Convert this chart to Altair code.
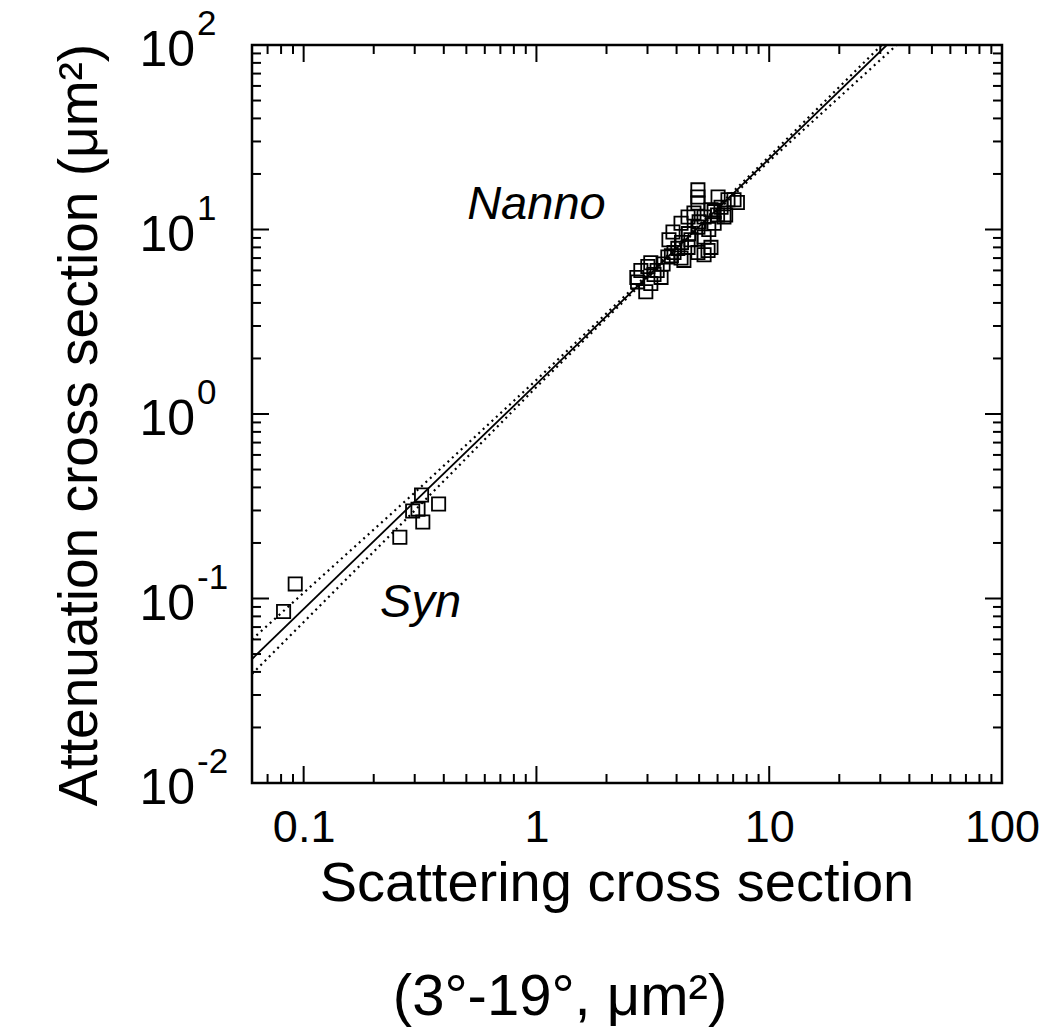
import altair as alt
import pandas as pd

# ---- data ----
syn_x = [0.082, 0.092, 0.259, 0.321, 0.294, 0.310, 0.325, 0.38]
syn_y = [0.085, 0.12, 0.215, 0.364, 0.298, 0.305, 0.26, 0.325]

nanno_x = [2.70, 2.81, 3.01, 3.10, 2.95, 2.72, 3.20, 3.43, 3.10, 3.67, 3.90, 4.18,
           4.48, 4.05, 3.71, 4.30, 3.86, 4.18, 4.48, 4.75, 4.94, 5.25, 5.46, 4.94,
           4.61, 4.94, 4.94, 4.94, 6.03, 6.65, 7.06, 6.21, 5.62, 6.39, 5.80, 5.25,
           5.62, 5.25, 5.5, 6.0, 5.8, 4.5, 4.2, 3.8, 3.5, 3.3, 5.0, 6.5, 7.3]
nanno_y = [5.5, 6.0, 6.3, 5.1, 4.6, 5.2, 5.7, 5.5, 6.6, 7.1, 7.5, 7.0,
           8.0, 7.9, 8.8, 6.8, 9.7, 10.8, 11.7, 12.3, 10.3, 9.1, 7.7, 7.5,
           8.8, 13.9, 15.0, 16.4, 15.0, 14.5, 14.5, 13.2, 12.8, 11.7, 10.8, 11.7,
           8.0, 7.3, 10.0, 12.0, 12.5, 9.5, 8.5, 7.2, 6.5, 6.0, 11.0, 12.0, 14.0]

fit_x = [0.06, 32.0]
fit_y = [0.047, 100.0]
upper_x = [0.06, 0.3, 1.0, 4.0, 10.0, 30.4]
upper_y = [0.060, 0.375, 1.53, 8.05, 24.9, 100.0]
lower_x = [0.06, 0.3, 1.0, 4.0, 10.0, 35.3]
lower_y = [0.039, 0.30, 1.40, 7.8, 23.5, 100.0]

x_label_values = [0.1, 1, 10, 100]
x_major = [0.1, 1, 10, 100]
x_minor = [0.07, 0.08, 0.09] + [m * 0.1 for m in range(2, 10)] + \
          [float(m) for m in range(2, 10)] + [m * 10.0 for m in range(2, 10)]
y_major = [0.01, 0.1, 1, 10, 100]
y_exponents = ["-2", "-1", "0", "1", "2"]
y_minor = [m * d for d in [0.01, 0.1, 1, 10] for m in range(2, 10)]

annot_text = ["Nanno", "Syn"]
annot_x = [1.0, 0.318]
annot_y = [13.6, 0.095]

x_title_1 = "Scattering cross section"
x_title_2 = "(3°-19°, μm²)"
y_title = "Attenuation cross section (μm²)"

# ---- chart ----
W, H = 750, 738
FONT = "Liberation Sans"
xs = alt.Scale(type="log", domain=[0.06, 100], nice=False)
ys = alt.Scale(type="log", domain=[0.01, 100], nice=False)
x_axis = alt.Axis(values=x_label_values, format="~g", title=None, ticks=False,
                  domain=False, grid=False, labelFontSize=45, labelPadding=22,
                  labelColor="black", labelFont=FONT, labelFlush=False)


def X(field):
    return alt.X(field, type="quantitative", scale=xs, axis=x_axis)


def Y(field):
    return alt.Y(field, type="quantitative", scale=ys, axis=None)


pts = pd.DataFrame({"x": syn_x + nanno_x, "y": syn_y + nanno_y})
points = alt.Chart(pts).mark_point(shape="square", filled=False, size=175,
                                   color="black", strokeWidth=1.8, opacity=1).encode(
    x=X("x"), y=Y("y"))

fit = alt.Chart(pd.DataFrame({"x": fit_x, "y": fit_y})).mark_line(
    color="black", strokeWidth=1.8, clip=True).encode(x=X("x"), y=Y("y"))
up = alt.Chart(pd.DataFrame({"x": upper_x, "y": upper_y})).mark_line(
    color="black", strokeWidth=2.2, strokeDash=[2, 4], clip=True).encode(x=X("x"), y=Y("y"))
lo = alt.Chart(pd.DataFrame({"x": lower_x, "y": lower_y})).mark_line(
    color="black", strokeWidth=2.2, strokeDash=[2, 4], clip=True).encode(x=X("x"), y=Y("y"))

MAJ, MIN = 17, 9
xmaj = pd.DataFrame({"x": x_major})
xmin = pd.DataFrame({"x": x_minor})
ymaj = pd.DataFrame({"y": y_major})
ymin = pd.DataFrame({"y": y_minor})
rule = dict(color="black", strokeWidth=2)

tick_layers = []
for df, L in [(xmaj, MAJ), (xmin, MIN)]:
    tick_layers.append(alt.Chart(df).mark_rule(**rule).encode(
        x=X("x"), y=alt.value(0), y2=alt.value(L)))
    tick_layers.append(alt.Chart(df).mark_rule(**rule).encode(
        x=X("x"), y=alt.value(H), y2=alt.value(H - L)))
for df, L in [(ymaj, MAJ), (ymin, MIN)]:
    tick_layers.append(alt.Chart(df).mark_rule(**rule).encode(
        y=Y("y"), x=alt.value(0), x2=alt.value(L)))
    tick_layers.append(alt.Chart(df).mark_rule(**rule).encode(
        y=Y("y"), x=alt.value(W), x2=alt.value(W - L)))

ylab = pd.DataFrame({"y": y_major, "b": ["10"] * len(y_major), "e": y_exponents})
ybase = alt.Chart(ylab).mark_text(align="right", baseline="middle", fontSize=50,
                                  font=FONT, dy=6, color="black").encode(
    y=Y("y"), x=alt.value(-57), text="b:N")
yexp = alt.Chart(ylab).mark_text(align="left", baseline="middle", fontSize=35,
                                 font=FONT, dy=-21, color="black").encode(
    y=Y("y"), x=alt.value(-55), text="e:N")

annot = alt.Chart(pd.DataFrame({"x": annot_x, "y": annot_y, "t": annot_text})).mark_text(
    fontSize=47, fontStyle="italic", font=FONT, color="black",
    align="center", baseline="middle").encode(x=X("x"), y=Y("y"), text="t:N")

t1 = alt.Chart(pd.DataFrame({"t": [x_title_1]})).mark_text(
    fontSize=56, font=FONT, align="center", baseline="alphabetic", color="black").encode(
    x=alt.value(365), y=alt.value(856), text="t:N")
t2 = alt.Chart(pd.DataFrame({"t": [x_title_2]})).mark_text(
    fontSize=58, font=FONT, align="center", baseline="alphabetic", color="black").encode(
    x=alt.value(308), y=alt.value(970), text="t:N")
t3 = alt.Chart(pd.DataFrame({"t": [y_title]})).mark_text(
    fontSize=55, font=FONT, align="center", baseline="alphabetic", angle=270,
    color="black").encode(x=alt.value(-155), y=alt.value(380), text="t:N")

chart = alt.layer(fit, up, lo, points, *tick_layers, ybase, yexp, annot, t1, t2, t3).properties(
    width=W, height=H,
    autosize=alt.AutoSizeParams(type="none"),
    padding={"left": 252, "top": 45, "right": 47, "bottom": 249},
    background="white",
).configure_view(stroke="black", strokeWidth=2.5)

chart.save("out.html", embed_options={"renderer": "svg", "actions": False})
